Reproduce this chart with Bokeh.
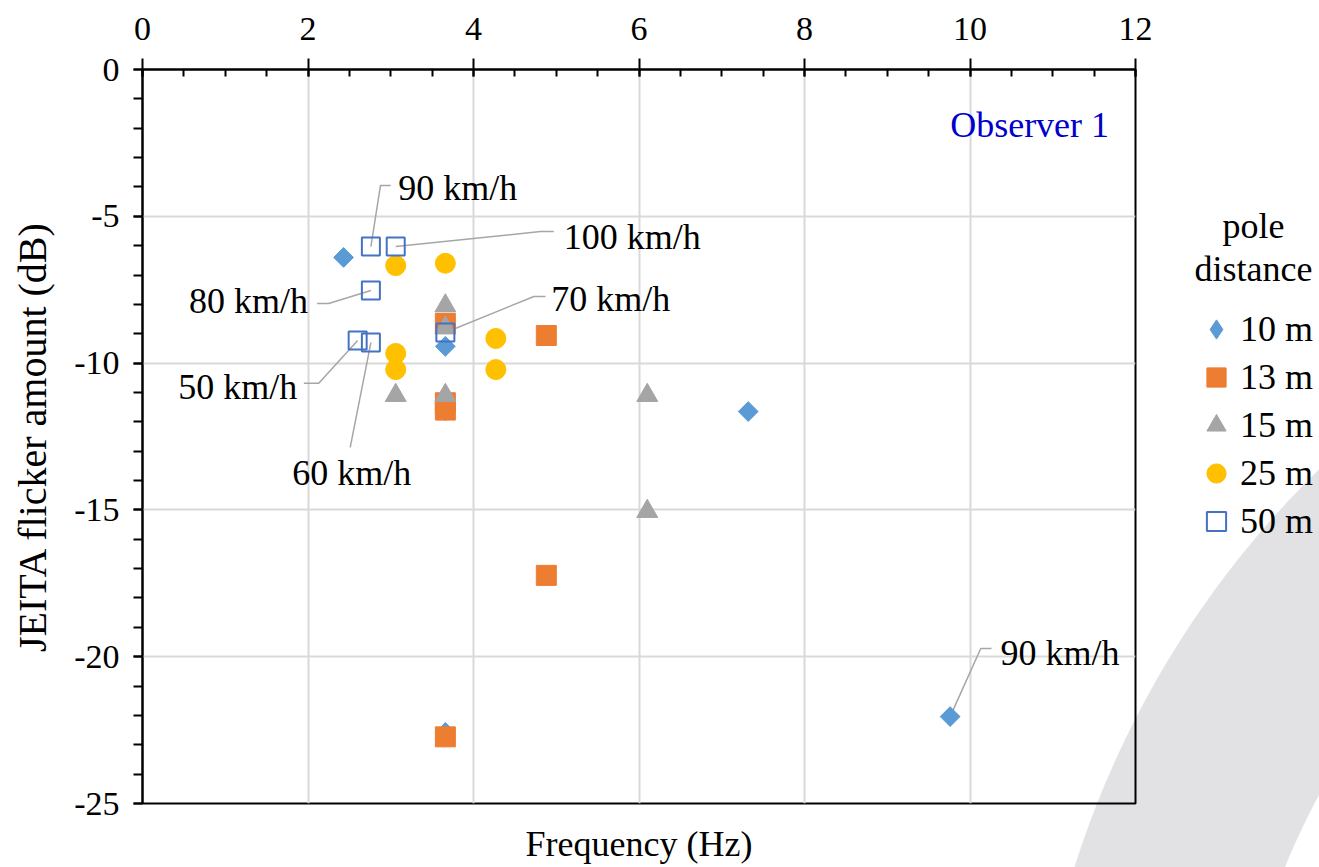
import numpy as np
from bokeh.plotting import figure
from bokeh.layouts import row
from bokeh.models import (Range1d, SingleIntervalTicker, FixedTicker, LinearAxis, Label,
                          Legend, LegendItem, PrintfTickFormatter)
from bokeh.embed import file_html
from bokeh.resources import INLINE

FONT = "Liberation Serif"

# ---------------- data ----------------
d10_x = [2.43, 3.66, 3.66, 3.66, 7.32, 9.76]
d10_y = [-6.40, -9.43, -11.62, -22.58, -11.65, -22.04]

d13_x = [3.66, 4.88, 3.66, 3.66, 4.88, 3.66]
d13_y = [-8.65, -9.06, -11.35, -11.60, -17.23, -22.73]

d15_x = [3.66, 3.66, 3.06, 3.66, 6.10, 6.10]
d15_y = [-8.05, -8.80, -11.10, -11.10, -11.10, -15.05]

d25_x = [3.06, 3.66, 3.06, 3.06, 4.27, 4.27]
d25_y = [-6.68, -6.60, -9.67, -10.22, -9.16, -10.22]

d50_x = [2.76, 3.06, 2.76, 3.66, 2.60, 2.76]
d50_y = [-6.03, -6.03, -7.53, -8.96, -9.23, -9.30]
d50_speed = ["90 km/h", "100 km/h", "80 km/h", "70 km/h", "50 km/h", "60 km/h"]

d10_note_idx = 5
d10_note = "90 km/h"

series_names = ["10 m", "13 m", "15 m", "25 m", "50 m"]
legend_title = ["pole", "distance"]

# ---------------- callout layout (data units) ----------------
co50_elbow_x = [2.876, 4.81, 2.25, 4.73, 2.13, 2.51]
co50_elbow_y = [-3.95, -5.52, -7.97, -7.73, -10.69, -12.87]
co50_end_x = [3.00, 4.97, 2.11, 4.87, 1.95, 2.51]
co50_text_x = [3.09, 5.09, 2.00, 4.94, 1.87, 2.53]
co50_text_y = [-4.02, -5.69, -7.90, -7.83, -10.80, -13.73]
co50_align = ["left", "left", "right", "left", "right", "center"]

co10_elbow = (10.13, -19.72)
co10_end_x = 10.26
co10_text = (10.37, -19.86)

# ---------------- main figure ----------------
p = figure(width=1160, height=867, output_backend="svg", toolbar_location=None,
           x_range=Range1d(0, 12), y_range=Range1d(-25, 0),
           x_axis_location="above",
           min_border_left=142, min_border_right=25, min_border_top=69, min_border_bottom=64)
p.background_fill_alpha = 0.0
p.border_fill_alpha = 0.0
p.outline_line_color = "black"
p.outline_line_width = 2

# top axis
xa = p.xaxis[0]
xa.ticker = SingleIntervalTicker(interval=2, num_minor_ticks=4)
xa.formatter = PrintfTickFormatter(format="%d")
xa.axis_line_color = "black"
xa.axis_line_width = 2
xa.major_tick_line_color = "black"
xa.major_tick_line_width = 2
xa.major_tick_in = 7
xa.major_tick_out = 11
xa.minor_tick_line_color = "black"
xa.minor_tick_line_width = 2
xa.minor_tick_in = 7
xa.minor_tick_out = 0
xa.major_label_text_font = FONT
xa.major_label_text_font_size = "34px"
xa.major_label_text_color = "black"
xa.major_label_standoff = 19

# bottom axis only carries the title
xb = LinearAxis(ticker=FixedTicker(ticks=[]), axis_label="Frequency (Hz)",
                axis_line_color=None, major_tick_line_color=None, minor_tick_line_color=None,
                major_tick_out=0, major_tick_in=0, minor_tick_out=0, minor_tick_in=0,
                major_label_standoff=0, axis_label_standoff=20,
                axis_label_text_font=FONT, axis_label_text_font_size="36px",
                axis_label_text_font_style="normal", axis_label_text_color="black")
p.add_layout(xb, "below")

ya = p.yaxis[0]
ya.ticker = SingleIntervalTicker(interval=5, num_minor_ticks=5)
ya.formatter = PrintfTickFormatter(format="%d")
ya.axis_line_color = "black"
ya.axis_line_width = 2
ya.major_tick_line_color = "black"
ya.major_tick_line_width = 2
ya.major_tick_in = 0
ya.major_tick_out = 9
ya.minor_tick_line_color = "black"
ya.minor_tick_line_width = 2
ya.minor_tick_in = 0
ya.minor_tick_out = 9
ya.major_label_text_font = FONT
ya.major_label_text_font_size = "34px"
ya.major_label_text_color = "black"
ya.major_label_standoff = 14
ya.axis_label = "JEITA flicker amount (dB)"
ya.axis_label_text_font = FONT
ya.axis_label_text_font_size = "40px"
ya.axis_label_text_font_style = "normal"
ya.axis_label_text_color = "black"
ya.axis_label_standoff = 16

p.xgrid.ticker = SingleIntervalTicker(interval=2)
p.ygrid.ticker = SingleIntervalTicker(interval=5)
p.grid.grid_line_color = "#d9d9d9"
p.grid.grid_line_width = 2

# callout leader lines
lx, ly = [], []
for i in range(len(d50_x)):
    lx.append([d50_x[i], co50_elbow_x[i], co50_end_x[i]])
    ly.append([d50_y[i], co50_elbow_y[i], co50_elbow_y[i]])
lx.append([d10_x[d10_note_idx], co10_elbow[0], co10_end_x])
ly.append([d10_y[d10_note_idx], co10_elbow[1], co10_elbow[1]])
p.multi_line(lx, ly, line_color="#a6a6a6", line_width=1.5)

# series
STY = {
    "10 m": dict(marker="square", angle=np.pi / 4, size=14, fill_color="#5b9bd5", line_color="#5b9bd5", line_width=1),
    "13 m": dict(marker="square", size=20, fill_color="#ed7d31", line_color="#ed7d31", line_width=1),
    "15 m": dict(marker="triangle", size=21, fill_color="#a5a5a5", line_color="#a5a5a5", line_width=1),
    "25 m": dict(marker="circle", size=20, fill_color="#ffc000", line_color="#ffc000", line_width=1),
    "50 m": dict(marker="square", size=18, fill_color=None, line_color="#4472c4", line_width=2),
}
series = [(d10_x, d10_y), (d13_x, d13_y), (d15_x, d15_y), (d25_x, d25_y), (d50_x, d50_y)]
for name, (sx, sy) in zip(series_names, series):
    p.scatter(sx, sy, **STY[name])

def lab(x, y, t, align="left", color="black", size="36px"):
    return Label(x=x, y=y, text=t, text_align=align, text_baseline="middle",
                 text_font=FONT, text_font_size=size, text_color=color)

for i, t in enumerate(d50_speed):
    p.add_layout(lab(co50_text_x[i], co50_text_y[i], t, co50_align[i]))
p.add_layout(lab(co10_text[0], co10_text[1], d10_note))
p.add_layout(lab(9.76, -1.9, "Observer 1", color="#0000cc"))

# ---------------- legend panel (second figure, frame aligned with the main one) ----------------
p2 = figure(width=159, height=867, output_backend="svg", toolbar_location=None,
            x_range=Range1d(1160, 1319), y_range=Range1d(803, 69),
            x_axis_location=None, y_axis_location=None,
            min_border_left=0, min_border_right=0,
            min_border_top=69, min_border_bottom=64)
p2.grid.visible = False
p2.outline_line_color = None
p2.background_fill_alpha = 0.0
p2.border_fill_alpha = 0.0

LEG = dict(STY)
LEG["10 m"] = dict(marker="diamond", size=20, fill_color="#5b9bd5", line_color="#5b9bd5")
items = []
for name, (sx, sy) in zip(series_names, series):
    r = p2.scatter(sx, sy, visible=False, **LEG[name])
    items.append(LegendItem(label=name, renderers=[r]))

p2.add_layout(lab(1253, 225, legend_title[0], "center"))
p2.add_layout(lab(1253, 268, legend_title[1], "center"))

legend = Legend(items=items, location=(32, 258), orientation="vertical",
                glyph_width=48, glyph_height=48, label_height=48, spacing=-1,
                label_standoff=-4, padding=0, margin=0,
                border_line_color=None, background_fill_alpha=0,
                inactive_fill_alpha=0,
                label_text_font=FONT, label_text_font_size="36px", label_text_color="black")
p2.add_layout(legend, "center")

layout = row(p, p2, spacing=0)
# decorative grey arc of the reference page (watermark) as the page background
layout.styles = {"background": "radial-gradient(circle 963px at 1993px 1158px, "
                               "#ffffff 0px, #ffffff 765px, #e2e1e4 766px, #e2e1e4 963px, "
                               "#ffffff 964px)"}

open("out.html", "w").write(file_html(layout, INLINE))
